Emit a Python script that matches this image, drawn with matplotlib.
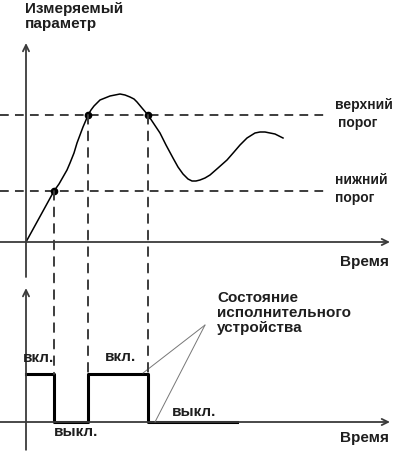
#!/usr/bin/env python3
"""Two-position controller diagram: measured parameter vs thresholds and actuator state."""

import matplotlib
matplotlib.use('Agg')
import matplotlib.pyplot as plt
from matplotlib.patches import ConnectionPatch

plt.rcParams['font.family'] = ['Liberation Sans', 'DejaVu Sans']

# --- data (time and parameter in arbitrary units) ---
curve_t = [0, 28, 33, 37, 41, 44, 48, 51, 54, 57, 60, 62, 65, 68, 71, 74, 79, 84, 89,
           94, 99, 104, 108, 111, 116, 122, 128, 134, 140, 147, 152, 157, 162, 166, 170,
           174, 179, 184, 192, 201, 208, 214, 221, 229, 234, 239, 244, 249, 253, 257]
curve_p = [0, 51, 58, 65, 72, 79, 89, 99, 107, 115, 122, 127, 132, 136, 139, 142, 144, 146, 147,
           148, 147, 145, 143, 140, 134, 127, 118, 109, 97, 84, 75, 68, 63, 61, 61,
           62, 64, 67, 74, 82, 90, 97, 104, 109, 110, 110, 109, 108, 106, 104]
upper_thr = 127
lower_thr = 51
cross_t = [28, 62, 122]          # moments when a threshold is crossed
cross_p = [lower_thr, upper_thr, upper_thr]

state_t = [0, 28, 62, 122, 211]  # actuator switching moments
state_v = [1, 0, 1, 0, 0]        # 1 = вкл., 0 = выкл.

AX_C = '#3a3a3a'
TXT_C = '#1e1e1e'
DASH_C = '#3c3c3c'
FS = 11
FS_THR = 10

fig = plt.figure(figsize=(3.96, 4.51), dpi=100)
H = 451.0
ax1 = fig.add_axes([0, (H - 290) / H, 1, 290 / H])
ax2 = fig.add_axes([0, 0, 1, 171 / H])
for a in (ax1, ax2):
    a.set_axis_off()
    a.patch.set_visible(False)
ax1.set_xlim(-26, 370)
ax1.set_ylim(-48, 242)
ax2.set_xlim(-26, 370)
ax2.set_ylim(-0.604, 2.958)

arrow = dict(arrowstyle='->,head_length=0.45,head_width=0.22', lw=1.3, color=AX_C,
             shrinkA=0, shrinkB=0)

# --- top: measured parameter ---
ax1.annotate('', xy=(0, 199), xytext=(0, -35), arrowprops=arrow, annotation_clip=False)
ax1.annotate('', xy=(364, 0), xytext=(-26, 0), arrowprops=arrow, annotation_clip=False)

ax1.plot([-26, 302], [upper_thr, upper_thr], color=DASH_C, lw=1.4, dashes=(4.5, 3.2))
ax1.plot([-26, 298], [lower_thr, lower_thr], color=DASH_C, lw=1.4, dashes=(4.5, 3.2))
ax1.plot(curve_t, curve_p, color='black', lw=1.1, solid_joinstyle='round')
ax1.plot(cross_t, cross_p, 'o', color='black', ms=4.5)

ax1.text(-1, 240, 'Измеряемый\nпараметр', ha='left', va='top', fontsize=FS,
         fontweight='bold', color=TXT_C, linespacing=1.05)
ax1.text(309, 137, 'верхний', ha='left', va='center', fontsize=FS_THR, fontweight='bold', color=TXT_C)
ax1.text(312, 119, 'порог', ha='left', va='center', fontsize=FS_THR, fontweight='bold', color=TXT_C)
ax1.text(309, 62, 'нижний', ha='left', va='center', fontsize=FS_THR, fontweight='bold', color=TXT_C)
ax1.text(309, 44, 'порог', ha='left', va='center', fontsize=FS_THR, fontweight='bold', color=TXT_C)
ax1.text(363, -20, 'Время', ha='right', va='center', fontsize=FS, fontweight='bold', color=TXT_C)

# --- bottom: actuator state ---
ax2.annotate('', xy=(0, 2.79), xytext=(0, -0.58), arrowprops=arrow, annotation_clip=False)
ax2.annotate('', xy=(364, 0), xytext=(-26, 0), arrowprops=arrow, annotation_clip=False)
ax2.plot(state_t, state_v, drawstyle='steps-post', color='black', lw=2.2)

# dashed drop lines from threshold crossings to the state plot
for t, p in zip(cross_t, cross_p):
    con = ConnectionPatch(xyA=(t, p), coordsA=ax1.transData,
                          xyB=(t, 1), coordsB=ax2.transData,
                          color=DASH_C, lw=1.4, linestyle=(0, (4.5, 4)))
    fig.add_artist(con)

ax2.text(191, 2.27, 'Состояние\nисполнительного\nустройства', ha='left', va='center',
         fontsize=FS, fontweight='bold', color=TXT_C, linespacing=1.05)
for end in [(117, 1.02), (129, 0)]:
    ax2.annotate('', xy=end, xytext=(179, 2.02),
                 arrowprops=dict(arrowstyle='-', lw=0.7, color='#777777',
                                 shrinkA=0, shrinkB=0))

ax2.text(12.5, 1.33, 'вкл.', ha='center', va='center', fontsize=FS, fontweight='bold', color=TXT_C)
ax2.text(94, 1.35, 'вкл.', ha='center', va='center', fontsize=FS, fontweight='bold', color=TXT_C)
ax2.text(50, -0.21, 'выкл.', ha='center', va='center', fontsize=FS, fontweight='bold', color=TXT_C)
ax2.text(168, 0.21, 'выкл.', ha='center', va='center', fontsize=FS, fontweight='bold', color=TXT_C)
ax2.text(363, -0.33, 'Время', ha='right', va='center', fontsize=FS, fontweight='bold', color=TXT_C)

fig.savefig('out.png', dpi=100)
